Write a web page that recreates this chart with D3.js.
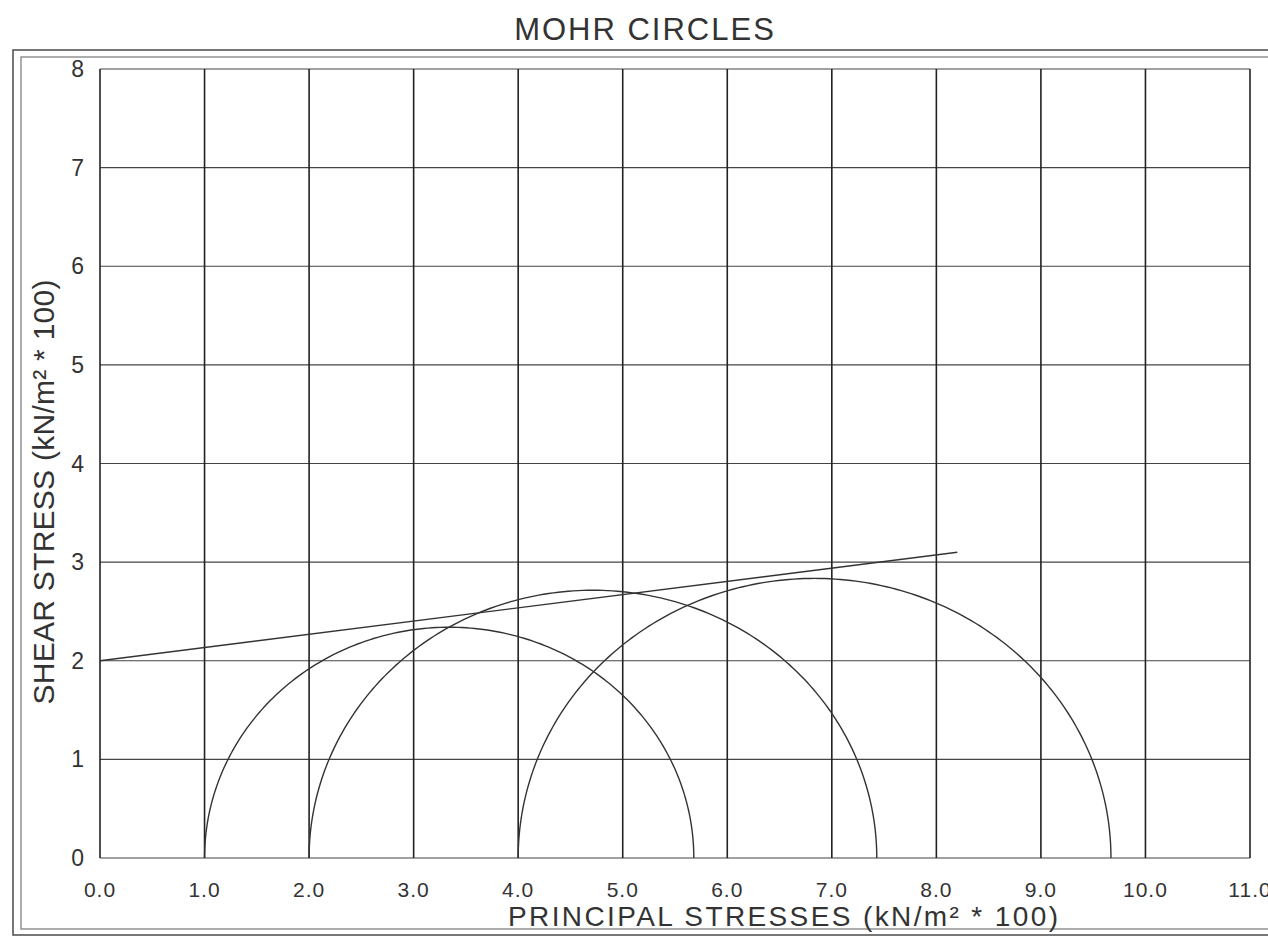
<!DOCTYPE html>
<html>
<head>
<meta charset="utf-8">
<script src="https://cdn.jsdelivr.net/npm/d3@7"></script>
<style>
  html, body { margin: 0; padding: 0; background: #fff; overflow: hidden; }
  svg { display: block; font-family: "Liberation Sans", Arial, Helvetica, sans-serif; }
</style>
</head>
<body>
<svg id="chart"></svg>
<script>
// Mohr circles: chart data
const xTicks = [0, 1, 2, 3, 4, 5, 6, 7, 8, 9, 10, 11];
const yTicks = [0, 1, 2, 3, 4, 5, 6, 7, 8];

// minor / major principal stress of each test (kN/m² * 100)
const sigma3 = [1.0, 2.0, 4.0];
const sigma1 = [5.68, 7.43, 9.67];

// failure envelope end points
const envX = [0.0, 8.2];
const envY = [2.0, 3.1];

const width = 1268, height = 937;
const margin = { top: 69, right: 18, bottom: 79, left: 100 };

const svg = d3.select('#chart')
    .attr('width', width)
    .attr('height', height);

// double frame of the printout
svg.append('rect')
    .attr('x', 13).attr('y', 50)
    .attr('width', width + 20).attr('height', 885)
    .attr('fill', 'none').attr('stroke', '#555').attr('stroke-width', 1.6);
svg.append('rect')
    .attr('x', 21).attr('y', 57)
    .attr('width', width + 20).attr('height', 872)
    .attr('fill', 'none').attr('stroke', '#777').attr('stroke-width', 1.2);

const x = d3.scaleLinear()
    .domain([0, 11])
    .range([margin.left, width - margin.right]);

const y = d3.scaleLinear()
    .domain([0, 8])
    .range([height - margin.bottom, margin.top]);

// grid: horizontal lines
svg.append('g')
    .selectAll('line')
    .data(yTicks)
    .join('line')
    .attr('x1', x(0)).attr('x2', x(11))
    .attr('y1', d => y(d)).attr('y2', d => y(d))
    .attr('stroke', '#444').attr('stroke-width', 1.1);

// grid: vertical lines (heavier on the original)
svg.append('g')
    .selectAll('line')
    .data(xTicks)
    .join('line')
    .attr('x1', d => x(d)).attr('x2', d => x(d))
    .attr('y1', y(0)).attr('y2', y(8))
    .attr('stroke', '#222').attr('stroke-width', 1.6);

// tick labels (the last one runs off the page, as in the scan)
svg.append('g')
    .selectAll('text')
    .data(xTicks)
    .join('text')
    .attr('x', d => x(d))
    .attr('y', y(0) + 39)
    .attr('text-anchor', 'middle')
    .attr('font-size', 21)
    .attr('letter-spacing', 1)
    .attr('fill', '#333')
    .text(d => d3.format('.1f')(d));

svg.append('g')
    .selectAll('text')
    .data(yTicks)
    .join('text')
    .attr('x', x(0) - 16)
    .attr('y', d => y(d) + 8)
    .attr('text-anchor', 'end')
    .attr('font-size', 23)
    .attr('fill', '#333')
    .text(d => d);

// Mohr circles (upper halves)
const circleLine = d3.line()
    .x(d => x(d[0]))
    .y(d => y(d[1]));

const angles = d3.range(0, 181, 1).map(a => a * Math.PI / 180);

sigma3.forEach((s3, i) => {
    const c = (s3 + sigma1[i]) / 2;
    const r = (sigma1[i] - s3) / 2;
    const pts = angles.map(t => [c - r * Math.cos(t), r * Math.sin(t)]);
    svg.append('path')
        .datum(pts)
        .attr('fill', 'none')
        .attr('stroke', '#333')
        .attr('stroke-width', 1.4)
        .attr('d', circleLine);
});

// failure envelope
svg.append('path')
    .datum(envX.map((v, i) => [v, envY[i]]))
    .attr('fill', 'none')
    .attr('stroke', '#333')
    .attr('stroke-width', 1.4)
    .attr('d', circleLine);

// titles
svg.append('text')
    .attr('x', 645).attr('y', 40)
    .attr('text-anchor', 'middle')
    .attr('font-size', 31)
    .attr('letter-spacing', 2)
    .attr('fill', '#333')
    .text('MOHR CIRCLES');

svg.append('text')
    .attr('x', 783).attr('y', 926)
    .attr('text-anchor', 'middle')
    .attr('font-size', 28)
    .attr('fill', '#333')
    .attr('textLength', 550)
    .text('PRINCIPAL STRESSES (kN/m² * 100)');

svg.append('text')
    .attr('transform', 'translate(54,492) rotate(-90)')
    .attr('text-anchor', 'middle')
    .attr('font-size', 30)
    .attr('fill', '#333')
    .attr('textLength', 425)
    .text('SHEAR STRESS (kN/m² * 100)');
</script>
</body>
</html>
